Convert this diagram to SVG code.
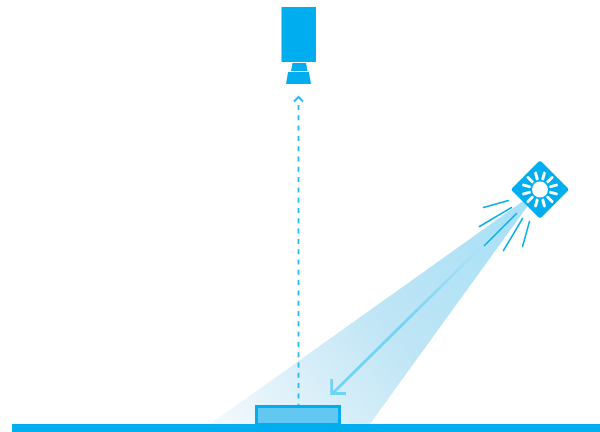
<svg xmlns="http://www.w3.org/2000/svg" width="600" height="432" viewBox="0 0 600 432">
<style>
.solid{fill:#00aeef}
.ray{stroke:#00aeef;stroke-width:1.500;fill:none;stroke-linecap:round}
.sun{stroke:#fff;stroke-width:3;stroke-linecap:round}
</style>
<defs>
<linearGradient id="beam" gradientUnits="userSpaceOnUse" x1="525" y1="198" x2="235" y2="432">
<stop offset="0" stop-color="#a6e0f8"/>
<stop offset="0.5" stop-color="#bfe5f5"/>
<stop offset="1" stop-color="#f1f8fc"/>
</linearGradient>
<linearGradient id="shaft" gradientUnits="userSpaceOnUse" x1="482" y1="246" x2="400" y2="327">
<stop offset="0" stop-color="#6fd2f6" stop-opacity="0"/>
<stop offset="1" stop-color="#6fd2f6"/>
</linearGradient>
</defs>
<rect width="600" height="432" fill="#fff"/>
<polygon id="beam-light" points="540,189 370,424 210,424" fill="url(#beam)"/>
<g id="connectors" fill="none">
<path d="M298.500 105V405" stroke="#26bcf1" stroke-width="1.800" stroke-dasharray="5 5.300"/>
<path d="M294 101.500L298.500 97L303 101.500" stroke="#26bcf1" stroke-width="2"/>
<path d="M482 246L332 394" stroke="url(#shaft)" stroke-width="2.800"/>
<path d="M331.700 379V393.500H346" stroke="#6fd2f6" stroke-width="2.800"/>
</g>
<g id="camera" class="solid">
<rect x="281.500" y="7" width="34.500" height="55"/>
<polygon points="292.500,63 306,63 307.500,71 291,71"/>
<polygon points="288,72 309,72 311,84 286,84"/>
</g>
<g id="lamp">
<rect x="519.250" y="168.750" width="41.500" height="41.500" rx="3" transform="rotate(45 540 189.500)" class="solid"/>
<circle cx="540" cy="189.500" r="8" fill="#fff"/>
<g class="sun">
<path d="M551 189.500L557 189.500" transform="rotate(15 540 189.500)"/>
<path d="M551 189.500L557 189.500" transform="rotate(45 540 189.500)"/>
<path d="M551 189.500L557 189.500" transform="rotate(75 540 189.500)"/>
<path d="M551 189.500L557 189.500" transform="rotate(105 540 189.500)"/>
<path d="M551 189.500L557 189.500" transform="rotate(135 540 189.500)"/>
<path d="M551 189.500L557 189.500" transform="rotate(165 540 189.500)"/>
<path d="M551 189.500L557 189.500" transform="rotate(195 540 189.500)"/>
<path d="M551 189.500L557 189.500" transform="rotate(225 540 189.500)"/>
<path d="M551 189.500L557 189.500" transform="rotate(255 540 189.500)"/>
<path d="M551 189.500L557 189.500" transform="rotate(285 540 189.500)"/>
<path d="M551 189.500L557 189.500" transform="rotate(315 540 189.500)"/>
<path d="M551 189.500L557 189.500" transform="rotate(345 540 189.500)"/>
</g>
<path class="ray" d="M483.500 207.500L508.500 200.500M479.500 226.500L511.500 207.500M484.500 245.500L516.500 213.500M503.500 250.500L522.500 218.500M522.500 246.500L529.500 221.500"/>
</g>
<g id="object">
<rect x="256.500" y="406.500" width="83" height="18" fill="#62c8f2" stroke="#00aeef" stroke-width="3"/>
</g>
<rect id="ground" class="solid" x="12" y="424" width="588" height="8"/>
</svg>
